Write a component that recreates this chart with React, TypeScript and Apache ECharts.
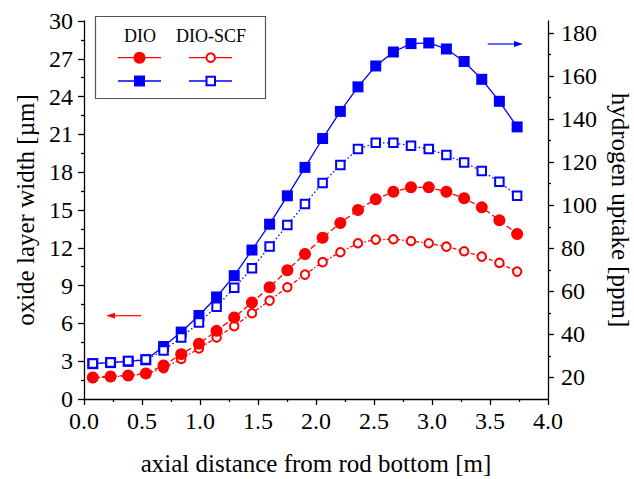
import React, { useEffect, useRef } from "react";
import * as echarts from "echarts";

const FONT = "'Liberation Serif', 'Times New Roman', serif";

// axial node centres [m]
const axialPos = [0.076, 0.229, 0.381, 0.533, 0.686, 0.838, 0.991, 1.143, 1.295, 1.448, 1.6, 1.753, 1.905, 2.057, 2.21, 2.362, 2.515, 2.667, 2.819, 2.972, 3.124, 3.277, 3.429, 3.581, 3.734];

// oxide layer width [µm] (left axis)
const oxideDIO = [1.71, 1.79, 1.87, 2.03, 2.66, 3.56, 4.38, 5.41, 6.47, 7.66, 8.87, 10.22, 11.51, 12.8, 13.97, 15.0, 15.85, 16.45, 16.8, 16.8, 16.45, 15.93, 15.21, 14.18, 13.1];
const oxideSCF = [1.68, 1.76, 1.84, 1.98, 2.45, 3.17, 4.01, 4.88, 5.78, 6.81, 7.81, 8.87, 9.87, 10.86, 11.65, 12.36, 12.65, 12.68, 12.54, 12.36, 12.09, 11.73, 11.3, 10.8, 10.11];

// hydrogen uptake [ppm] (right axis)
const hydDIO = [26.4, 26.9, 27.5, 28.2, 34.4, 41.1, 48.8, 57.4, 67.3, 79.2, 91.2, 104.4, 117.6, 131.0, 143.6, 155.0, 164.7, 171.2, 175.1, 175.4, 172.6, 166.8, 158.5, 148.3, 136.4];
const hydSCF = [26.5, 27.0, 27.6, 28.3, 32.5, 38.6, 45.5, 52.9, 61.7, 70.7, 80.8, 90.8, 100.6, 110.4, 118.7, 126.1, 129.0, 129.0, 127.6, 126.1, 123.3, 119.9, 115.9, 110.9, 104.4];

// right axis ticks
const hydMajorTicks = [20, 40, 60, 80, 100, 120, 140, 160, 180];
const hydMinorTicks = [30, 50, 70, 90, 110, 130, 150, 170];

const legendHeaders = ["DIO", "DIO-SCF"];

const RED = "#ff0000";
const BLUE = "#0000ff";
const AX = "#000";

function pairs(xs: number[], ys: number[]) {
  return xs.map((x, i) => [x, ys[i]]);
}

export default function App() {
  const ref = useRef<HTMLDivElement>(null);
  useEffect(() => {
    if (!ref.current) return;
    const chart = echarts.init(ref.current, null, { renderer: "svg" });
    const axisLine = { show: true, lineStyle: { color: AX, width: 1.3 } };
    const tick = { show: true, inside: false, length: 6, lineStyle: { color: AX, width: 1.3 } };
    const minor = { show: true, splitNumber: 2, length: 3, lineStyle: { color: AX, width: 1.3 } };
    const label = { fontFamily: FONT, fontSize: 24, color: AX };
    const nameStyle = { fontFamily: FONT, fontSize: 25, color: AX };
    const yMinHyd = 10;
    const yMaxHyd = 185.6;

    const option: any = {
      animation: false,
      backgroundColor: "#fff",
      grid: { left: 84, right: 86, top: 21, bottom: 80, outerBoundsMode: "none", containLabel: false },
      xAxis: {
        type: "value",
        min: 0,
        max: 4,
        interval: 0.5,
        axisLine,
        axisTick: tick,
        minorTick: minor,
        splitLine: { show: false },
        minorSplitLine: { show: false },
        axisLabel: { ...label, margin: 10, formatter: (v: number) => v.toFixed(1) },
        name: "axial distance from rod bottom [m]",
        nameLocation: "middle",
        nameGap: 52,
        nameTextStyle: nameStyle,
      },
      yAxis: [
        {
          type: "value",
          position: "left",
          min: 0,
          max: 30,
          interval: 3,
          axisLine,
          axisTick: tick,
          minorTick: minor,
          splitLine: { show: false },
          minorSplitLine: { show: false },
          axisLabel: { ...label, margin: 11 },
          name: "oxide layer width [µm]",
          nameLocation: "middle",
          nameGap: 46,
          nameTextStyle: nameStyle,
        },
        {
          type: "value",
          position: "right",
          min: yMinHyd,
          max: yMaxHyd,
          axisLine,
          axisTick: { ...tick, customValues: hydMajorTicks },
          splitLine: { show: false },
          axisLabel: { ...label, margin: 13, customValues: hydMajorTicks },
          name: "hydrogen uptake [ppm]",
          nameLocation: "middle",
          nameRotate: -90,
          nameGap: 52,
          nameTextStyle: nameStyle,
        },
        {
          type: "value",
          position: "right",
          min: yMinHyd,
          max: yMaxHyd,
          axisLine: { show: false },
          axisTick: { show: true, length: 3, lineStyle: { color: AX, width: 1.3 }, customValues: hydMinorTicks },
          splitLine: { show: false },
          axisLabel: { show: false },
        },
      ],
      series: [
        {
          type: "line",
          name: "DIO hydrogen",
          yAxisIndex: 1,
          data: pairs(axialPos, hydDIO),
          symbol: "rect",
          symbolSize: 11,
          itemStyle: { color: BLUE },
          lineStyle: { color: BLUE, width: 1.3, type: "solid" },
        },
        {
          type: "line",
          name: "DIO-SCF hydrogen",
          yAxisIndex: 1,
          data: pairs(axialPos, hydSCF),
          symbol: "rect",
          symbolSize: 8.5,
          itemStyle: { color: "#fff", borderColor: BLUE, borderWidth: 2 },
          lineStyle: { color: BLUE, width: 1.3, type: [1.5, 2.5] },
        },
        {
          type: "line",
          name: "DIO-SCF oxide",
          yAxisIndex: 0,
          data: pairs(axialPos, oxideSCF),
          symbol: "circle",
          symbolSize: 8.5,
          itemStyle: { color: "#fff", borderColor: RED, borderWidth: 2 },
          lineStyle: { color: RED, width: 1.3, type: [4, 2, 1.5, 2] },
        },
        {
          type: "line",
          name: "DIO oxide",
          yAxisIndex: 0,
          data: pairs(axialPos, oxideDIO),
          symbol: "circle",
          symbolSize: 12,
          itemStyle: { color: RED },
          lineStyle: { color: RED, width: 1.3, type: [6, 3] },
        },
      ],
      graphic: [
        {
          type: "rect",
          shape: { x: 95.5, y: 16.5, width: 170, height: 82 },
          style: { fill: "#fff", stroke: "#555", lineWidth: 1.2 },
          z: 10,
        },
        {
          type: "text",
          x: 140,
          y: 36,
          style: { text: legendHeaders[0], font: `18px ${FONT}`, fill: AX, textAlign: "center", textVerticalAlign: "middle", align: "center", verticalAlign: "middle" },
          z: 11,
        },
        {
          type: "text",
          x: 211,
          y: 36,
          style: { text: legendHeaders[1], font: `18px ${FONT}`, fill: AX, textAlign: "center", textVerticalAlign: "middle", align: "center", verticalAlign: "middle" },
          z: 11,
        },
        { type: "line", shape: { x1: 118, y1: 57.7, x2: 161, y2: 57.7 }, style: { stroke: RED, lineWidth: 1.3 }, z: 11 },
        { type: "circle", shape: { cx: 139.5, cy: 57.7, r: 6 }, style: { fill: RED }, z: 12 },
        { type: "line", shape: { x1: 189, y1: 57.7, x2: 232, y2: 57.7 }, style: { stroke: RED, lineWidth: 1.3 }, z: 11 },
        { type: "circle", shape: { cx: 210.7, cy: 57.7, r: 4.3 }, style: { fill: "#fff", stroke: RED, lineWidth: 2 }, z: 12 },
        { type: "line", shape: { x1: 118, y1: 81, x2: 161, y2: 81 }, style: { stroke: BLUE, lineWidth: 1.3 }, z: 11 },
        { type: "rect", shape: { x: 134, y: 75.5, width: 11, height: 11 }, style: { fill: BLUE }, z: 12 },
        { type: "line", shape: { x1: 189, y1: 81, x2: 232, y2: 81 }, style: { stroke: BLUE, lineWidth: 1.3 }, z: 11 },
        { type: "rect", shape: { x: 206.5, y: 76.8, width: 8.5, height: 8.5 }, style: { fill: "#fff", stroke: BLUE, lineWidth: 2 }, z: 12 },
        // arrows
        { type: "line", shape: { x1: 141, y1: 315.7, x2: 112, y2: 315.7 }, style: { stroke: RED, lineWidth: 1.2 }, z: 11 },
        { type: "polygon", shape: { points: [[106, 315.7], [115, 312.8], [115, 318.6]] }, style: { fill: RED }, z: 11 },
        { type: "line", shape: { x1: 487.7, y1: 44, x2: 516, y2: 44 }, style: { stroke: BLUE, lineWidth: 1.2 }, z: 11 },
        { type: "polygon", shape: { points: [[523, 44], [514, 41.1], [514, 46.9]] }, style: { fill: BLUE }, z: 11 },
      ],
    };
    chart.setOption(option);
    return () => chart.dispose();
  }, []);
  return (
    <div
      ref={ref}
      style={{ position: "fixed", left: 0, top: 0, width: 634, height: 479 }}
    />
  );
}
